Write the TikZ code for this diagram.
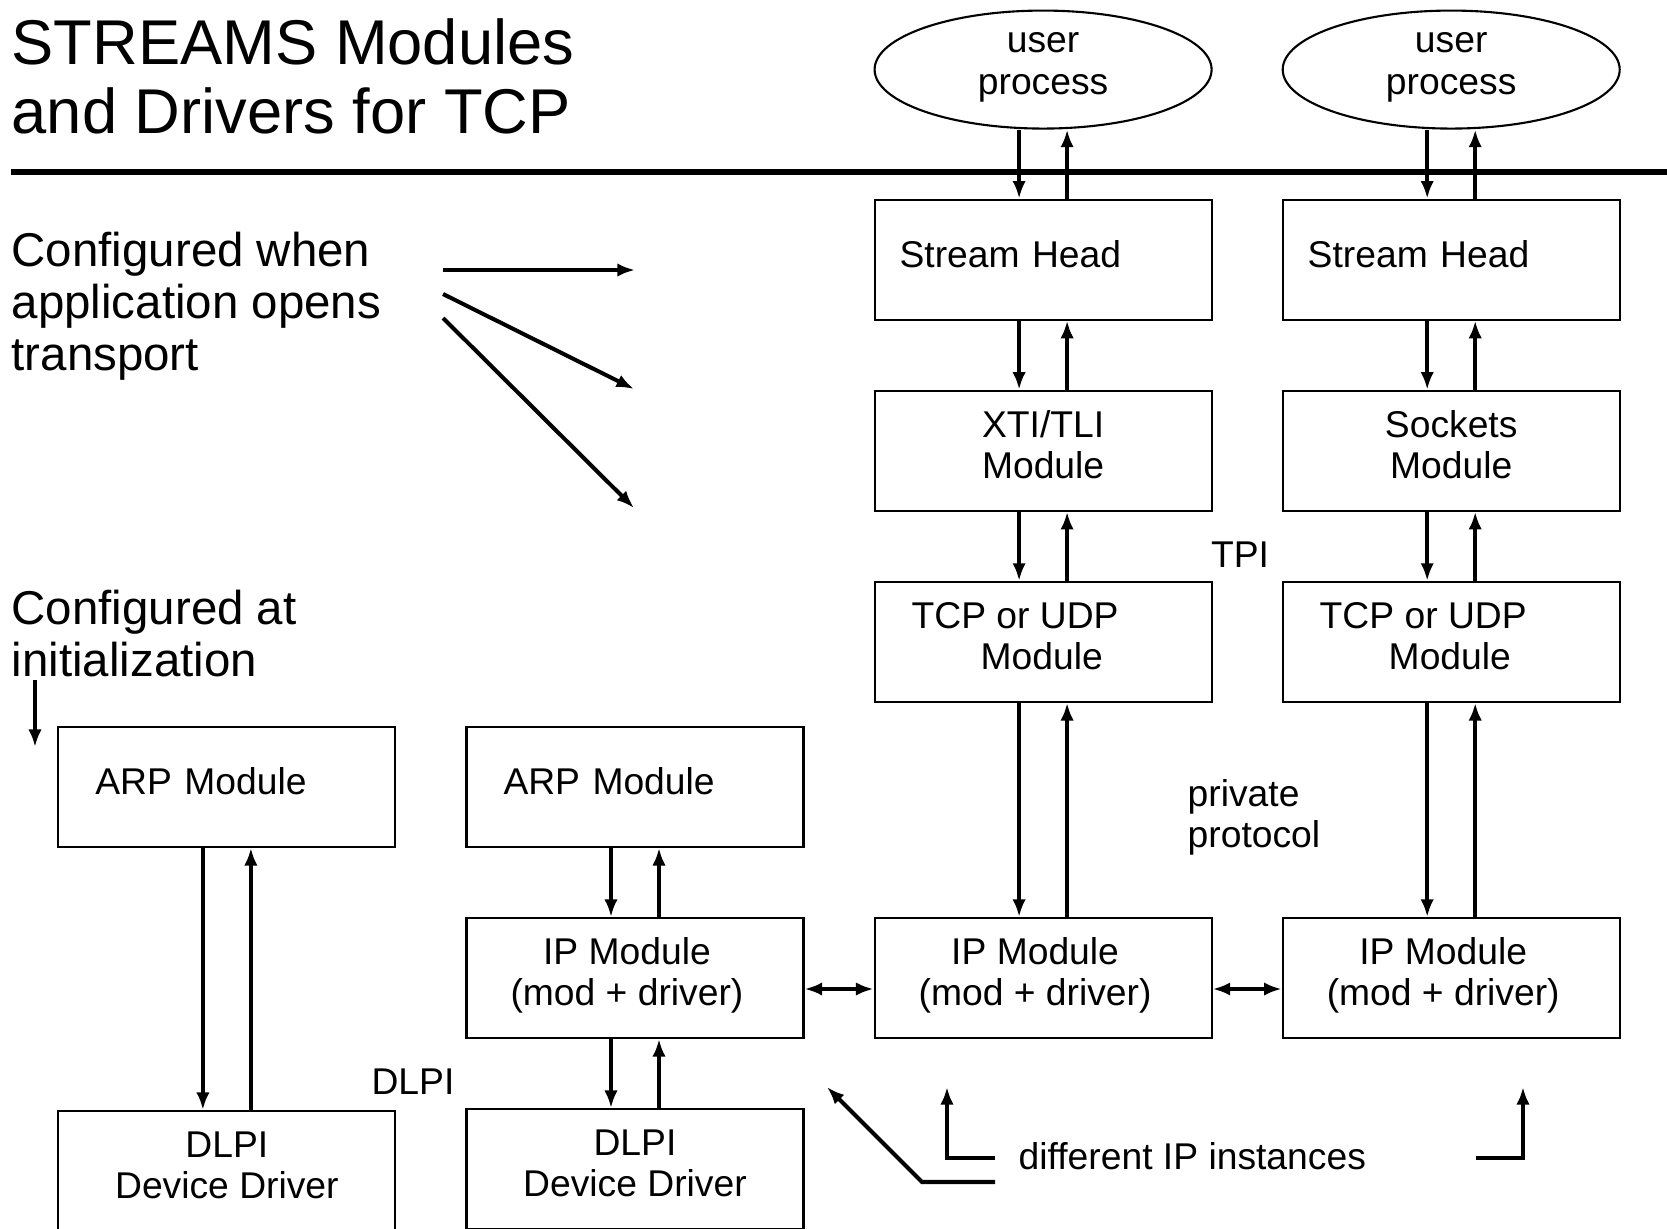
\documentclass[tikz,border=0pt]{standalone}
\usepackage{fontspec}
\setmainfont{Liberation Sans}
\usetikzlibrary{positioning,shapes.geometric,arrows.meta}

\newcommand{\iptext}{IP Module\hspace*{0.16cm}\\(mod + driver)\hspace*{0.16cm}}
\newcommand{\tcptext}{TCP or UDP\hspace*{0.56cm}\\\hspace*{0.69cm}Module}

\tikzset{
  box/.style={draw, line width=0.6pt, minimum width=3.37cm, minimum height=1.2cm,
    inner sep=0pt, align=center, text depth=3.5pt},
  headbox/.style={box, align=left, text width=2.87cm, inner xsep=0.25cm},
  modbox/.style={box, align=left, text width=2.63cm, inner xsep=0.37cm},
  proc/.style={ellipse, draw, line width=0.6pt, minimum width=3.37cm,
    minimum height=1.18cm, inner sep=0pt, align=center, text depth=3.5pt},
  link/.style={line width=1.15pt, ->},
  pointer/.style={line width=1.15pt, ->},
  bigtext/.style={anchor=west, align=left, inner sep=0pt,
    font=\fontsize{13.5}{14.8}\selectfont},
  lbl/.style={inner sep=0pt, align=left},
}

\begin{document}
\begin{tikzpicture}[font=\fontsize{10.6}{11.7}\selectfont,
    >={Latex[length=5pt,width=3.8pt]}]
  \useasboundingbox (0,0) rectangle (16.67,-12.29);

  % heading and kernel line
  \node[anchor=west, align=left, inner sep=0pt, font=\fontsize{18}{19.6}\selectfont]
    (title) at (0.11,-0.76) {STREAMS Modules\\and Drivers for TCP};
  \draw[line width=1.8pt] (0.11,-1.72) -- (16.67,-1.72);
  \node[bigtext] (opens) at (0.11,-3.06) {Configured when\\application opens\\transport};
  \node[bigtext] (init) at (0.11,-6.34) {Configured at\\initialization};

  % bottom row
  \node[box] (ipB) at (6.35,-9.78) {\iptext};
  \node[modbox, above=0.69cm of ipB] (arpB) {ARP Module};
  \node[box, below=0.69cm of ipB] (dlpiB) {DLPI\\Device Driver};
  \node[modbox, left=0.69cm of arpB] (arpA) {ARP Module};
  \node[box, below=2.62cm of arpA] (dlpiA) {DLPI\\Device Driver};
  \node[box, right=0.69cm of ipB] (ipC) {\iptext};
  \node[box, right=0.69cm of ipC] (ipD) {\iptext};

  % two streams
  \node[box, align=left, above=2.14cm of ipC] (tcpC) {\tcptext};
  \node[box, above=0.69cm of tcpC] (xti) {XTI/TLI\\Module};
  \node[headbox, above=0.69cm of xti] (headC) {Stream Head};
  \node[proc, above=0.69cm of headC] (userC) {user\\process};
  \node[box, align=left, above=2.14cm of ipD] (tcpD) {\tcptext};
  \node[box, above=0.69cm of tcpD] (sock) {Sockets\\Module};
  \node[headbox, above=0.69cm of sock] (headD) {Stream Head};
  \node[proc, above=0.69cm of headD] (userD) {user\\process};

  % down and up queues
  \draw[link] ([xshift=-0.24cm]userC.south) -- ([xshift=-0.24cm]headC.north);
  \draw[link] ([xshift=0.24cm]headC.north) -- ([xshift=0.24cm]userC.south);
  \draw[link] ([xshift=-0.24cm]headC.south) -- ([xshift=-0.24cm]xti.north);
  \draw[link] ([xshift=0.24cm]xti.north) -- ([xshift=0.24cm]headC.south);
  \draw[link] ([xshift=-0.24cm]xti.south) -- ([xshift=-0.24cm]tcpC.north);
  \draw[link] ([xshift=0.24cm]tcpC.north) -- ([xshift=0.24cm]xti.south);
  \draw[link] ([xshift=-0.24cm]tcpC.south) -- ([xshift=-0.24cm]ipC.north);
  \draw[link] ([xshift=0.24cm]ipC.north) -- ([xshift=0.24cm]tcpC.south);
  \draw[link] ([xshift=-0.24cm]userD.south) -- ([xshift=-0.24cm]headD.north);
  \draw[link] ([xshift=0.24cm]headD.north) -- ([xshift=0.24cm]userD.south);
  \draw[link] ([xshift=-0.24cm]headD.south) -- ([xshift=-0.24cm]sock.north);
  \draw[link] ([xshift=0.24cm]sock.north) -- ([xshift=0.24cm]headD.south);
  \draw[link] ([xshift=-0.24cm]sock.south) -- ([xshift=-0.24cm]tcpD.north);
  \draw[link] ([xshift=0.24cm]tcpD.north) -- ([xshift=0.24cm]sock.south);
  \draw[link] ([xshift=-0.24cm]tcpD.south) -- ([xshift=-0.24cm]ipD.north);
  \draw[link] ([xshift=0.24cm]ipD.north) -- ([xshift=0.24cm]tcpD.south);
  \draw[link] ([xshift=-0.24cm]arpA.south) -- ([xshift=-0.24cm]dlpiA.north);
  \draw[link] ([xshift=0.24cm]dlpiA.north) -- ([xshift=0.24cm]arpA.south);
  \draw[link] ([xshift=-0.24cm]arpB.south) -- ([xshift=-0.24cm]ipB.north);
  \draw[link] ([xshift=0.24cm]ipB.north) -- ([xshift=0.24cm]arpB.south);
  \draw[link] ([xshift=-0.24cm]ipB.south) -- ([xshift=-0.24cm]dlpiB.north);
  \draw[link] ([xshift=0.24cm]dlpiB.north) -- ([xshift=0.24cm]ipB.south);
  \draw[link, <->] ([yshift=-0.11cm]ipB.east) -- ([yshift=-0.11cm]ipC.west);
  \draw[link, <->] ([yshift=-0.11cm]ipC.east) -- ([yshift=-0.11cm]ipD.west);

  % interface names
  \node[lbl] (tpi) at (12.40,-5.55) {TPI};
  \node[lbl, anchor=west] (priv) at (11.87,-8.17) {private\\protocol};
  \node[lbl] (dlpi) at (4.13,-10.82) {DLPI};
  \node[lbl, anchor=west] (inst) at (10.18,-11.56) {different IP instances};

  % fan of arrows and init arrow
  \coordinate (f1) at (4.43,-2.70);
  \coordinate (f2) at (4.43,-2.94);
  \coordinate (f3) at (4.43,-3.18);
  \coordinate (t1) at (6.35,-2.70);
  \coordinate (t2) at (6.34,-3.89);
  \coordinate (t3) at (6.34,-5.08);
  \draw[pointer] (f1) -- (t1);
  \draw[pointer] (f2) -- (t2);
  \draw[pointer] (f3) -- (t3);
  \coordinate (i1) at (0.35,-6.80);
  \coordinate (i2) at (0.35,-7.47);
  \draw[link] (i1) -- (i2);

  % pointers to the IP instances
  \coordinate (d1) at (8.27,-10.87);
  \coordinate (d2) at (9.47,-10.87);
  \coordinate (d3) at (15.23,-10.87);
  \draw[pointer] (9.95,-11.82) -- (9.22,-11.82) -- (d1);
  \draw[pointer] (9.95,-11.58) -- (9.47,-11.58) -- (d2);
  \draw[pointer] (14.76,-11.58) -- (15.23,-11.58) -- (d3);
\end{tikzpicture}
\end{document}
